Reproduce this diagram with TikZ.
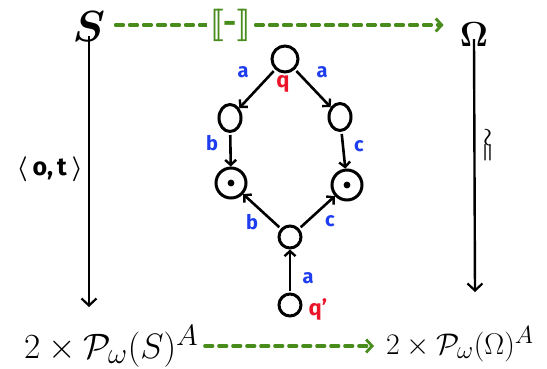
\documentclass[tikz,border=0pt]{standalone}
\usepackage{fontspec}
\setsansfont{Fira Sans}
\usetikzlibrary{arrows.meta,shapes.geometric}
\definecolor{hgreen}{RGB}{72,140,28}
\definecolor{hblue}{RGB}{30,60,240}
\definecolor{hred}{RGB}{235,20,40}
\begin{document}
\begin{tikzpicture}[x=1pt,y=-1pt,
  big/.style={inner sep=0pt},
  bot/.style={inner sep=0pt,anchor=base west},
  st/.style={draw,line width=3pt,circle,inner sep=0pt,minimum size=#1},
  est/.style={draw,line width=3pt,ellipse,inner sep=0pt,minimum width=22pt,minimum height=27pt},
  lab/.style={text=hblue,font=\sffamily\bfseries\fontsize{20}{22}\selectfont,inner sep=0pt},
  qlab/.style={text=hred,font=\sffamily\bfseries\fontsize{22}{24}\selectfont,inner sep=0pt},
  tr/.style={line width=2.6pt,shorten <=2pt,-{Straight Barb[length=5pt,width=11pt,line width=2.4pt]}},
  marr/.style={line width=2.4pt,-{Straight Barb[length=7pt,width=15pt,line width=2.2pt]}},
  garr/.style={hgreen,line width=3.2pt,dash pattern=on 8pt off 6pt,line cap=round,
    -{Straight Barb[length=6pt,width=13pt,line width=2.8pt]}}]
\useasboundingbox (0,0) rectangle (547,368);
% corner objects
\node[big] (S) at (89,27) {\scalebox{1.75}{\Huge\boldmath$S$}};
\node[big] (Om) at (474,35) {\scalebox{1.4}{\Huge\boldmath$\Omega$}};
\node[bot] (L) at (24,358) {\scalebox{1.42}{\Huge$2\times\mathcal{P}_{\omega}(S)^{A}$}};
\node[bot] (R) at (386,354) {\scalebox{1.2}{\Huge$2\times\mathcal{P}_{\omega}(\Omega)^{A}$}};
\coordinate (lend) at (89,307);
\coordinate (rend) at (475,292);
\coordinate (gb) at (0,346);
% main arrows
\draw[garr] ([xshift=10pt,yshift=2pt]S.east) -- node[pos=0.35,fill=white,text=hgreen,inner sep=3pt] (sem) {\scalebox{1.3}{\Huge\boldmath$[\![\textsf{\bfseries -}]\!]$}} ([xshift=-16pt,yshift=2pt]S.east -| Om.west);
\draw[marr] ([yshift=6pt]S.south) -- (lend) node[pos=0.49,left=5pt,inner sep=0pt] (ot) {\scalebox{2.5}{\sffamily\bfseries\boldmath$\langle\,$o,\,t$\,\rangle$}};
\draw[marr] ([yshift=8pt]Om.south) -- (rend) node[pos=0.42,right=9pt,inner sep=0pt] (iso) {\rotatebox{90}{\scalebox{2.2}{\boldmath$=\!\sim$}}};
\draw[garr] ([xshift=6pt]L.east |- gb) -- ([xshift=-12pt]R.west |- gb);
% automaton
\node[st=26pt] (q) at (285,59) {};
\node[est] (m1) at (230,118) {};
\node[est] (m2) at (340,117) {};
\node[st=30pt] (f1) at (231,183) {};
\node[st=30pt] (f2) at (347,185) {};
\node[st=22pt] (b) at (290,237) {};
\node[st=22pt] (qq) at (290,305) {};
\fill (f1) circle (3.4pt);
\fill (f2) circle (3.4pt);
\draw[tr] (q) -- (m1);
\draw[tr] (q) -- (m2);
\draw[tr] (m1) -- (f1);
\draw[tr] (m2) -- (f2);
\draw[tr] (b) -- (f1);
\draw[tr] (b) -- (f2);
\draw[tr] (qq) -- (b);
% labels
\node[lab] (la1) at (243,72) {a};
\node[lab] (la2) at (322,72) {a};
\node[lab] (lb1) at (212,143) {b};
\node[lab] (lc1) at (359,146) {c};
\node[lab] (lb2) at (252,222) {b};
\node[lab] (lc2) at (330,221) {c};
\node[lab] (la3) at (308,278) {a};
\node[qlab] (lq) at (283,84) {q};
\node[qlab] (lqq) at (318,310) {q'};
\end{tikzpicture}
\end{document}
